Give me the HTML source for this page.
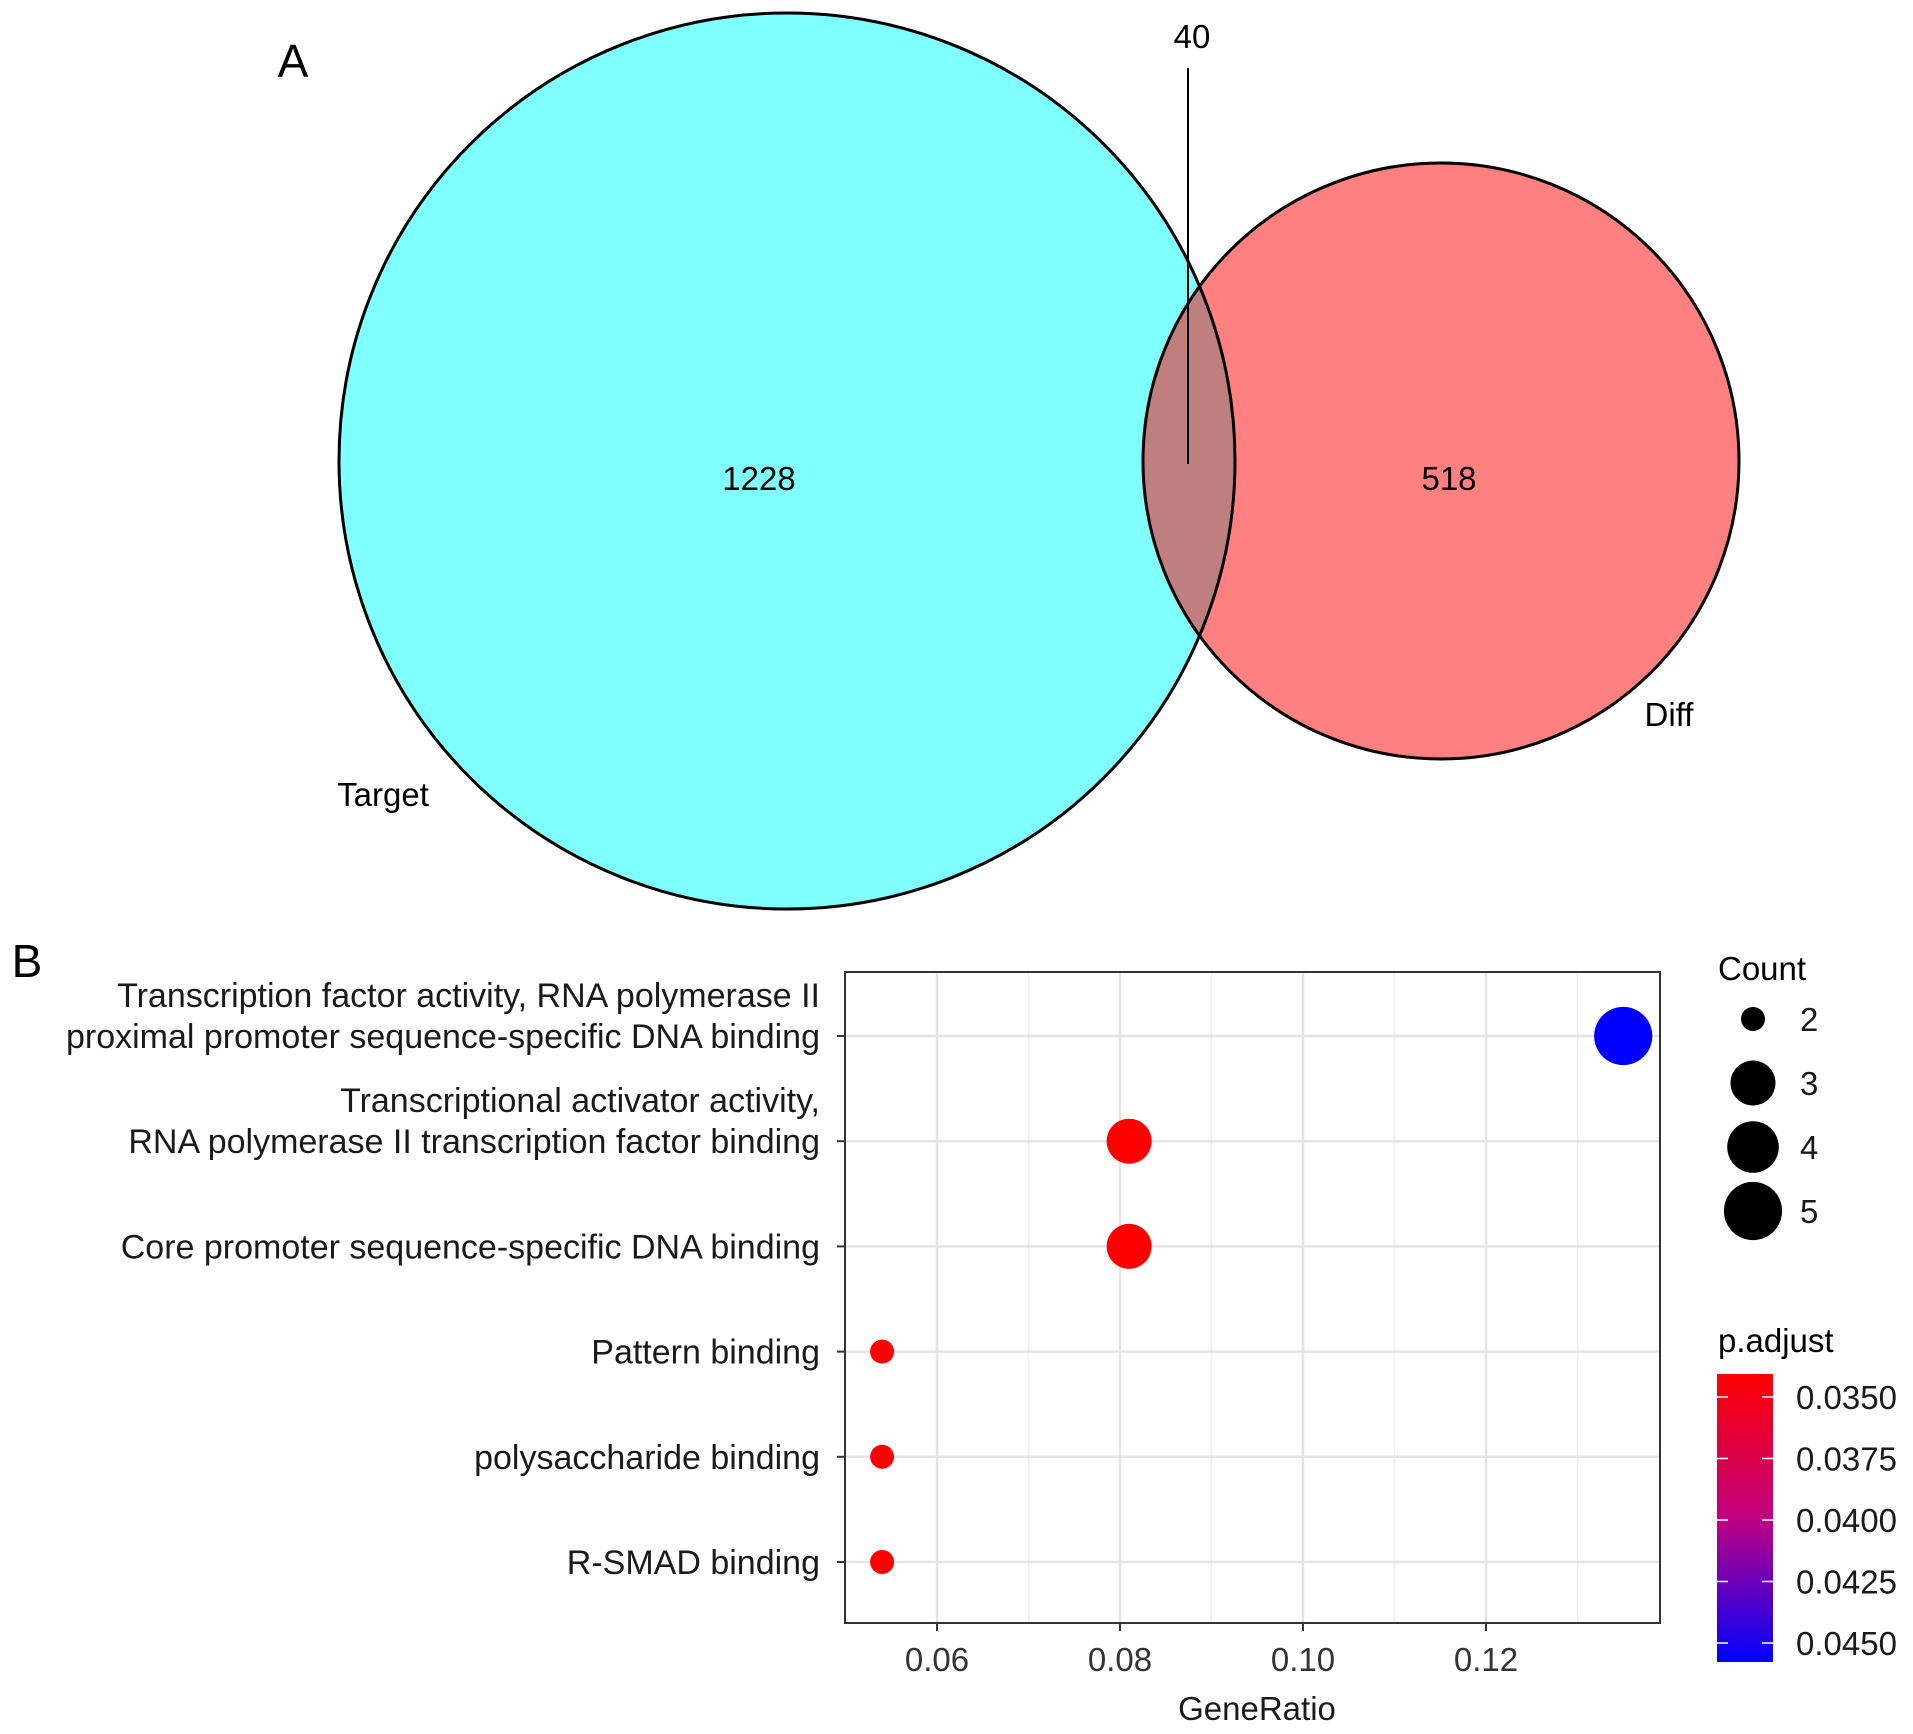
<!DOCTYPE html>
<html><head><meta charset="utf-8"><style>body{margin:0;background:#fff}svg{display:block;font-family:"Liberation Sans",sans-serif}</style></head>
<body>
<svg id="fig" width="1913" height="1734" viewBox="0 0 1913 1734">
<defs><clipPath id="clipT"><circle cx="787" cy="461" r="448"/></clipPath></defs>
<g>
<circle cx="787" cy="461" r="448" fill="#80FFFF"/>
<circle cx="1441" cy="461" r="298" fill="#FF8080"/>
<circle cx="1441" cy="461" r="298" fill="#BF7F7F" clip-path="url(#clipT)"/>
<circle cx="787" cy="461" r="448" fill="none" stroke="#000" stroke-width="3"/>
<circle cx="1441" cy="461" r="298" fill="none" stroke="#000" stroke-width="3"/>
<line x1="1188" y1="68" x2="1188" y2="464" stroke="#000" stroke-width="2"/>
<text x="293" y="77" font-size="46" text-anchor="middle">A</text>
<text x="1192" y="48" font-size="33" text-anchor="middle">40</text>
<text x="759" y="490" font-size="33" text-anchor="middle">1228</text>
<text x="1449" y="490" font-size="33" text-anchor="middle">518</text>
<text x="383" y="806" font-size="33" text-anchor="middle">Target</text>
<text x="1669" y="726" font-size="33" text-anchor="middle">Diff</text>
</g>
<text x="27" y="977" font-size="46" text-anchor="middle">B</text>
<g id="plot"></g>
<g id="legend"></g>
</svg>
<script>
const categories=[["Transcription factor activity, RNA polymerase II","proximal promoter sequence-specific DNA binding"],["Transcriptional activator activity,","RNA polymerase II transcription factor binding"],["Core promoter sequence-specific DNA binding"],["Pattern binding"],["polysaccharide binding"],["R-SMAD binding"]];
const geneRatio=[0.135,0.081,0.081,0.054,0.054,0.054];
const counts=[5,3,3,2,2,2];
const padjust=[0.0450,0.0350,0.0350,0.0350,0.0350,0.0350];
const xTicks=[0.06,0.08,0.10,0.12];
const xTickLabels=["0.06","0.08","0.10","0.12"];
const countLegend=[2,3,4,5];
const padjTicks=[0.0350,0.0375,0.0400,0.0425,0.0450];
const padjLabels=["0.0350","0.0375","0.0400","0.0425","0.0450"];

const NS="http://www.w3.org/2000/svg";
function mk(p,t,a){const e=document.createElementNS(NS,t);for(const k in a)e.setAttribute(k,a[k]);p.appendChild(e);return e;}
const L=845,R=1660,T=972,B=1623;
const x=v=>937+(v-0.06)*9150;
const y=i=>1036+i*105.2;
function rad(c){if(c<=2)return 12;if(c<=3)return 12+(c-2)*10.5;return 22.5+(c-3)*3.3;}
function col(p){const t=(p-0.035)/0.01;return `rgb(${Math.round(255*(1-t))},0,${Math.round(255*t)})`;}
const FS=33;
const LFS=34;
const g=document.getElementById('plot');
const frame=mk(g,'rect',{x:L,y:T,width:R-L,height:B-T,fill:'#fff'});


for(let i=0;i<xTicks.length;i++){
  mk(g,'line',{x1:x(xTicks[i]-0.01),x2:x(xTicks[i]-0.01),y1:T,y2:B,stroke:'#f0f0f0','stroke-width':1.5});
  const l=mk(g,'line',{x1:x(xTicks[i]),x2:x(xTicks[i]),y1:T,y2:B,stroke:'#e4e4e4','stroke-width':2.5});
  
  
  mk(g,'line',{x1:x(xTicks[i]),x2:x(xTicks[i]),y1:B,y2:B+8,stroke:'#333','stroke-width':2});
  const t=mk(g,'text',{x:x(xTicks[i]),y:1671,'font-size':FS,'text-anchor':'middle',fill:'#333'});t.textContent=xTickLabels[i];
  
  
}
mk(g,'line',{x1:x(0.13),x2:x(0.13),y1:T,y2:B,stroke:'#f0f0f0','stroke-width':1.5});
categories.forEach((c,i)=>{
  const gl=mk(g,'line',{x1:L,x2:R,y1:y(i),y2:y(i),stroke:'#e4e4e4','stroke-width':2.5});
  
  
  mk(g,'line',{x1:L-8,x2:L,y1:y(i),y2:y(i),stroke:'#333','stroke-width':2});
  const t=mk(g,'text',{x:820,'font-size':LFS,'text-anchor':'end',fill:'#1a1a1a'});
  
  
  c.forEach((line,j)=>{const s=mk(t,'tspan',{x:820,y:y(i)+12-(c.length-1-j)*41});s.textContent=line;});
});
categories.forEach((c,i)=>{
  const d=mk(g,'circle',{cx:x(geneRatio[i]),cy:y(i),r:rad(counts[i]),fill:col(padjust[i])});
  
  
});
mk(g,'rect',{x:L,y:T,width:R-L,height:B-T,fill:'none',stroke:'#333','stroke-width':2});
const xt=mk(g,'text',{x:1257,y:1720,'font-size':FS,'text-anchor':'middle',fill:'#1a1a1a'});xt.textContent='GeneRatio';


const lg=document.getElementById('legend');
const ct=mk(lg,'text',{x:1718,y:980,'font-size':FS});ct.textContent='Count';


countLegend.forEach((c,i)=>{
  const yy=1019+i*64;
  const e=mk(lg,'circle',{cx:1753,cy:yy,r:rad(c),fill:'#000'});
  
  
  const t=mk(lg,'text',{x:1800,y:yy+12,'font-size':FS,fill:'#1a1a1a'});t.textContent=c;
});
const pt=mk(lg,'text',{x:1718,y:1352,'font-size':FS});pt.textContent='p.adjust';


const gr=mk(lg,'linearGradient',{id:'cb',x1:0,y1:0,x2:0,y2:1});
mk(gr,'stop',{offset:'0',  'stop-color':'#ff0000'});
mk(gr,'stop',{offset:'0.5','stop-color':'#c0007f'});
mk(gr,'stop',{offset:'1','stop-color':'#0000ff'});
const cb=mk(lg,'rect',{x:1717,y:1374,width:56,height:288,fill:'url(#cb)'});


const cy=p=>1397+(p-0.035)/0.01*246;
padjTicks.forEach((p,i)=>{
  mk(lg,'line',{x1:1717,x2:1728,y1:cy(p),y2:cy(p),stroke:'#fff','stroke-width':1.5});
  mk(lg,'line',{x1:1762,x2:1773,y1:cy(p),y2:cy(p),stroke:'#fff','stroke-width':1.5});
  const t=mk(lg,'text',{x:1796,y:cy(p)+12,'font-size':FS,fill:'#1a1a1a'});t.textContent=padjLabels[i];
  
  
});
</script>
</body></html>
